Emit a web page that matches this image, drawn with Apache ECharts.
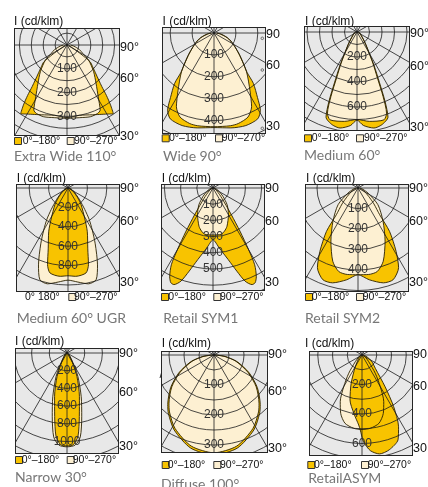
<!DOCTYPE html>
<html>
<head>
<meta charset="utf-8">
<script src="https://cdn.jsdelivr.net/npm/echarts/dist/echarts.min.js"></script>
<style>
  html, body { margin: 0; padding: 0; background: #fff; }
  #page { position: absolute; left: 0; top: 0; width: 428px; height: 487px; }
  .panel { position: absolute; box-sizing: border-box; border: 1px solid #262626; background: #e8e8e8; overflow: hidden; }
</style>
</head>
<body>
<div id="page"></div>
<script>
// Luminous intensity (cd/klm) against gamma angle (deg) for the C0-180 and C90-270 planes.

// Extra Wide 110°
const ewC0Gamma = [0, 10, 20, 25, 30, 34, 36, 38, 40, 45, 50, 54, 57, 60, 65, 75, 90];
const ewC0 = [305, 300, 312, 322, 335, 348, 311, 269, 227, 172, 140, 120, 70, 35, 18, 10, 8];
const ewC90Gamma = [0, 10, 18, 24, 27, 31, 37, 45, 55, 62, 70, 80, 90];
const ewC90 = [308, 310, 317, 315, 307, 255, 203, 158, 111, 75, 55, 30, 15];
const ewRings = [100, 200, 300];

// Wide 90°
const wC0Gamma = [0, 10, 19, 27, 31, 34, 38, 40, 45, 50, 60, 70, 80, 90];
const wC0 = [432, 440, 447, 440, 411, 355, 292, 235, 185, 150, 100, 65, 30, 12];
const wC90Gamma = [0, 10, 15, 22, 27, 32, 40, 49, 58, 67, 75, 85, 90];
const wC90 = [428, 430, 428, 414, 378, 310, 231, 155, 110, 78, 50, 25, 12];
const wRings = [100, 200, 300, 400];

// Medium 60°
const mC0Gamma = [0, 4, 10, 15, 20, 22, 24, 27, 30, 35, 40, 50, 60, 75, 90];
const mC0 = [705, 750, 780, 768, 725, 600, 440, 300, 200, 125, 85, 45, 30, 20, 10];
const mC90Gamma = [0, 8, 17, 20, 22, 24, 27, 30, 35, 40, 50, 60, 75, 90];
const mC90 = [700, 722, 735, 691, 557, 400, 280, 190, 120, 80, 45, 30, 20, 10];
const mRings = [200, 400, 600];

// Medium 60° UGR
const muC0Gamma = [0, 5, 12, 15, 18, 24, 29, 38, 45, 55, 65, 80, 90];
const muC0 = [905, 914, 895, 815, 660, 488, 354, 220, 140, 70, 35, 15, 8];
const muC90Gamma = [0, 6, 12, 17, 21, 26, 30, 34, 38, 45, 55, 68, 80, 90];
const muC90 = [950, 975, 1010, 990, 849, 640, 500, 390, 280, 165, 85, 45, 22, 10];
const muRings = [200, 400, 600, 800];

// Retail SYM1
const s1C0Gamma = [0, 6, 12, 16, 19, 22, 24, 26, 28.5, 30, 32, 34.5, 38, 45, 55, 70, 90];
const s1C0 = [320, 373, 452, 534, 608, 643, 640, 610, 539, 440, 314, 200, 117, 58, 25, 12, 6];
const s1C90Gamma = [0, 10, 15, 20, 30, 40, 50, 60, 70, 80, 90];
const s1C90 = [290, 290, 275, 252, 191, 136, 80, 45, 25, 12, 6];
const s1Rings = [100, 200, 300, 400, 500];

// Retail SYM2
const s2C0Gamma = [0, 7, 15, 21, 27, 31, 36, 39, 45, 50, 60, 70, 90];
const s2C0 = [423, 451, 479, 479, 436, 361, 262, 168, 110, 75, 40, 20, 8];
const s2C90Gamma = [0, 7, 13, 19, 27, 37, 50, 63, 75, 90];
const s2C90 = [423, 425, 418, 378, 291, 203, 127, 55, 25, 10];
const s2Rings = [100, 200, 300, 400];

// Narrow 30°
const nC0Gamma = [0, 4, 7.5, 11, 16, 23, 31, 40, 55, 90];
const nC0 = [1050, 1038, 950, 730, 509, 287, 110, 50, 20, 5];
const nC90Gamma = [0, 5, 9, 13, 18, 25, 33, 42, 55, 90];
const nC90 = [1060, 1045, 960, 740, 520, 290, 110, 50, 20, 5];
const nRings = [200, 400, 600, 800, 1000];

// Diffuse 100°
const dGamma = [0, 14, 28, 38, 43, 53, 63, 74, 82, 87, 90];
const dC0 = [333, 320, 283, 247, 226, 181, 132, 80, 40, 13, 2];
const dC90 = [326, 313, 277, 241, 220, 176, 127, 76, 37, 11, 2];
const dRings = [100, 200, 300];

// RetailASYM (negative gamma = C0 side, drawn to the right)
const aC0Gamma = [-90, -75, -64, -55, -45, -36, -31.5, -27, -23, -16, -10, -5, -1, 1.3, 2.7, 8, 15, 21, 30, 45, 60, 90];
const aC0 = [10, 25, 51, 85, 128, 267, 411, 546, 625, 669, 681, 651, 588, 509, 475, 399, 315, 205, 91, 32, 15, 8];
const aC90Gamma = [0, 6.5, 14, 20, 25, 30, 36, 45, 60, 90];
const aC90 = [505, 500, 477, 422, 349, 248, 153, 64, 25, 8];
const aRings = [200, 400, 600];

const titles = ['Extra Wide 110°', 'Wide 90°', 'Medium 60°', 'Medium 60° UGR', 'Retail SYM1',
  'Retail SYM2', 'Narrow 30°', 'Diffuse 100°', 'RetailASYM'];
const legendC0 = '0°–180°';
const legendC90 = '90°–270°';
const axisTitle = 'I (cd/klm)';
const angleLabels = ['90°', '60°', '30°'];

const YELLOW = '#f8c300';
const CREAM = '#fdf0d2';
const LINE = '#1c1c1c';

// Panel layout: frame box [x, y, w, h], lamp position, scale, ring spacing, drawing order.
const panels = [
  { box: [14, 28, 106, 108], lamp: [67, 45], ppu: 0.238, step: 50, max: 450, rings: ewRings,
    series: [[ewC0Gamma, ewC0, YELLOW, true], [ewC90Gamma, ewC90, CREAM, true]] },
  { box: [162, 27, 104, 107], lamp: [214, 33], ppu: 0.219, step: 100, max: 600, rings: wRings,
    series: [[wC0Gamma, wC0, YELLOW, true], [wC90Gamma, wC90, CREAM, true]], marks: true },
  { box: [304, 26, 106, 105], lamp: [357, 32], ppu: 0.125, step: 100, max: 900, rings: mRings,
    series: [[mC0Gamma, mC0, YELLOW, true], [mC90Gamma, mC90, CREAM, true]] },
  { box: [16, 184, 104, 108], lamp: [68, 188], ppu: 0.097, step: 200, max: 1400, rings: muRings,
    series: [[muC90Gamma, muC90, CREAM, true], [muC0Gamma, muC0, YELLOW, true]] },
  { box: [161, 184, 104, 107], lamp: [213, 188], ppu: 0.162, step: 100, max: 800, rings: s1Rings,
    series: [[s1C0Gamma, s1C0, YELLOW, true], [s1C90Gamma, s1C90, CREAM, true]] },
  { box: [305, 184, 104, 108], lamp: [358, 188], ppu: 0.205, step: 100, max: 600, rings: s2Rings,
    series: [[s2C0Gamma, s2C0, YELLOW, true], [s2C90Gamma, s2C90, CREAM, true]] },
  { box: [15, 348, 104, 106], lamp: [67, 353], ppu: 0.0885, step: 200, max: 1400, rings: nRings,
    series: [[nC90Gamma, nC90, CREAM, true], [nC0Gamma, nC0, YELLOW, true]] },
  { box: [161, 351, 107, 102], lamp: [214, 355], ppu: 0.30, step: 50, max: 400, rings: dRings,
    series: [[dGamma, dC0, YELLOW, true], [dGamma, dC90, CREAM, true]] },
  { box: [309, 351, 104, 105], lamp: [362, 355], ppu: 0.1475, step: 100, max: 800, rings: aRings,
    series: [[aC90Gamma, aC90, CREAM, true], [aC0Gamma, aC0, YELLOW, false]] }
];

// Text placement around each frame
const labelPos = [
  { title: [14, 156], yTitle: [14, 21.5], deg: [120, 48, 79, 137], leg: [14, 141, 66.7], legText: [22.7, 74] },
  { title: [163, 156], yTitle: [162.5, 21.5], deg: [266, 35, 66, 127], leg: [161.7, 138.3, 215], legText: [169, 221.7], noDeg: true },
  { title: [304, 155], yTitle: [305, 21.5], deg: [410, 34, 67, 128], leg: [304, 138.3, 356], legText: [311.7, 364] },
  { title: [16.7, 318], yTitle: [16.7, 178.5], deg: [120, 189, 222, 283], leg: [null, 297, 68.3], legText: [25, 74], plain: true },
  { title: [163.3, 318], yTitle: [161.7, 178.5], deg: [265, 189, 222, 283], leg: [161, 297, 213.3], legText: [168.3, 220], noDeg: true },
  { title: [305, 318], yTitle: [306, 178.5], deg: [409, 189, 222, 283], leg: [305, 297, 356], legText: [311.7, 362.7] },
  { title: [15, 477], yTitle: [15, 342], deg: [119, 354, 393, 447], leg: [15, 460, 66.7], legText: [21.7, 72.7] },
  { title: [161, 484], yTitle: [161.7, 344], deg: [268, 355, 392, 449], leg: [161.7, 465, 213.3], legText: [167.7, 220] },
  { title: [308.3, 478], yTitle: [305, 344], deg: [413, 355, 387, 449], leg: [307.3, 465, 361], legText: [314, 367.7], noDeg: true }
];

const SANS = '"Liberation Sans", Arial, sans-serif';

function planePoints(gammas, values, symmetric) {
  const pts = [];
  if (symmetric) {
    for (let i = gammas.length - 1; i >= 0; i--) pts.push([values[i], 360 - gammas[i]]);
    for (let i = 1; i < gammas.length; i++) pts.push([values[i], gammas[i]]);
  } else {
    for (let i = 0; i < gammas.length; i++) {
      const g = gammas[i];
      pts.push([values[i], g < 0 ? 360 + g : g]);
    }
  }
  return pts;
}

function text(x, y, s, extra) {
  return {
    type: 'text', x: x, y: y, silent: true, z: 10,
    style: Object.assign({ text: s, fill: '#111', fontSize: 12, fontFamily: SANS, align: 'left', verticalAlign: 'middle' }, extra || {})
  };
}
function swatch(x, y, fill) {
  return { type: 'rect', silent: true, z: 10, shape: { x: x + 0.5, y: y - 3.5, width: 7, height: 7 }, style: { fill: fill, stroke: '#333', lineWidth: 1 } };
}

// Page-level text: titles, axis captions, legends and angle marks
const page = document.getElementById('page');
const pageChart = echarts.init(page, null, { width: 428, height: 487 });
const pageGraphics = [];
labelPos.forEach(function (p, i) {
  pageGraphics.push(text(p.yTitle[0], p.yTitle[1], axisTitle, { fontSize: 12 }));
  const ys = p.deg.slice(1);
  angleLabels.forEach(function (lab, k) {
    pageGraphics.push(text(p.deg[0], ys[k], p.noDeg ? lab.replace('°', '') : lab, { fontSize: 12.5 }));
  });
  if (p.plain) {
    pageGraphics.push(text(p.legText[0], p.leg[1], '0° 180°', { fontSize: 10.5 }));
  } else {
    pageGraphics.push(swatch(p.leg[0], p.leg[1], YELLOW));
    pageGraphics.push(text(p.legText[0], p.leg[1], legendC0, { fontSize: 10.5 }));
  }
  pageGraphics.push(swatch(p.leg[2], p.leg[1], CREAM));
  pageGraphics.push(text(p.legText[1], p.leg[1], legendC90, { fontSize: 10.5 }));
  pageGraphics.push(text(p.title[0], p.title[1], titles[i], { fontSize: 14, fontFamily: 'Lato, sans-serif', fill: '#777' }));
});
pageGraphics.push({ type: 'line', silent: true, shape: { x1: 160, y1: 378, x2: 163.5, y2: 366 }, style: { stroke: '#333', lineWidth: 1 } });
pageChart.setOption({ animation: false, graphic: pageGraphics });

// One clipped polar chart per frame
panels.forEach(function (p) {
  const div = document.createElement('div');
  div.className = 'panel';
  div.style.left = p.box[0] + 'px';
  div.style.top = p.box[1] + 'px';
  div.style.width = p.box[2] + 'px';
  div.style.height = p.box[3] + 'px';
  document.body.appendChild(div);
  const chart = echarts.init(div, null, { width: p.box[2] - 2, height: p.box[3] - 2 });
  const cx = p.lamp[0] - p.box[0] - 1;
  const cy = p.lamp[1] - p.box[1] - 1;
  const rings = p.rings;
  const option = {
    animation: false,
    polar: { center: [cx, cy], radius: p.max * p.ppu },
    angleAxis: {
      type: 'value', min: 0, max: 360, interval: 30, startAngle: -90, clockwise: true, z: 5,
      axisLine: { show: false }, axisTick: { show: false }, axisLabel: { show: false },
      splitLine: { show: true, lineStyle: { color: LINE, width: 0.8 } }
    },
    radiusAxis: {
      type: 'value', min: 0, max: p.max, interval: p.step, z: 5,
      axisLine: { show: false }, axisTick: { show: false },
      splitLine: { show: true, lineStyle: { color: LINE, width: 0.8 } },
      axisLabel: {
        show: true, margin: 0, align: 'center', verticalAlign: 'middle',
        fontSize: 12, fontFamily: SANS, color: '#333',
        formatter: function (v) { return rings.indexOf(v) >= 0 ? String(v) : ''; }
      }
    },
    series: p.series.map(function (s) {
      return {
        type: 'line', coordinateSystem: 'polar', silent: true, z: 2,
        data: planePoints(s[0], s[1], s[3]),
        symbol: 'none', smooth: 0.25,
        lineStyle: { color: '#2a2000', width: 0.9 },
        areaStyle: { color: s[2], opacity: 1 }
      };
    })
  };
  if (p.marks) {
    option.graphic = [38.3, 70, 128.3].map(function (y) {
      return { type: 'circle', silent: true, z: 20, shape: { cx: 262.3 - p.box[0] - 1, cy: y - p.box[1] - 1, r: 1.3 }, style: { fill: 'none', stroke: '#555', lineWidth: 0.8 } };
    });
  }
  chart.setOption(option);
});
</script>
</body>
</html>
